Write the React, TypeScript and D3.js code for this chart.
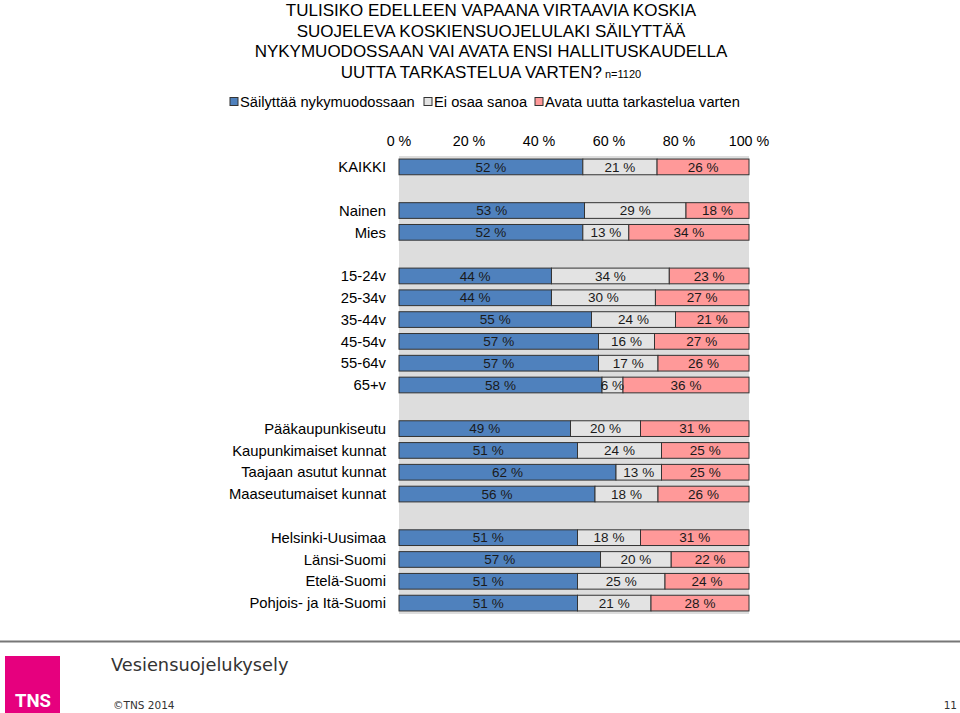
import { scaleBand, scaleLinear } from 'd3'

const categories = [
  'KAIKKI',
  'Nainen',
  'Mies',
  '15-24v',
  '25-34v',
  '35-44v',
  '45-54v',
  '55-64v',
  '65+v',
  'Pääkaupunkiseutu',
  'Kaupunkimaiset kunnat',
  'Taajaan asutut kunnat',
  'Maaseutumaiset kunnat',
  'Helsinki-Uusimaa',
  'Länsi-Suomi',
  'Etelä-Suomi',
  'Pohjois- ja Itä-Suomi',
]

// a blank row follows each of these
const gapAfter = ['KAIKKI', 'Mies', '65+v', 'Maaseutumaiset kunnat']

const keepValues = [52, 53, 52, 44, 44, 55, 57, 57, 58, 49, 51, 62, 56, 51, 57, 51, 51]
const dontKnowValues = [21, 29, 13, 34, 30, 24, 16, 17, 6, 20, 24, 13, 18, 18, 20, 25, 21]
const openValues = [26, 18, 34, 23, 27, 21, 27, 26, 36, 31, 25, 25, 26, 31, 22, 24, 28]

const seriesNames = ['Säilyttää nykymuodossaan', 'Ei osaa sanoa', 'Avata uutta tarkastelua varten']
const seriesColors = ['#4F81BD', '#E3E3E3', '#FF9999']

const xTicks = [0, 20, 40, 60, 80, 100]

const titleLines = [
  'TULISIKO EDELLEEN VAPAANA VIRTAAVIA KOSKIA',
  'SUOJELEVA KOSKIENSUOJELULAKI SÄILYTTÄÄ',
  'NYKYMUODOSSAAN VAI AVATA ENSI HALLITUSKAUDELLA',
  'UUTTA TARKASTELUA VARTEN?',
]

const width = 960
const height = 713
const plot = { left: 399, right: 749, top: 156, bottom: 614 }
const font = '"Liberation Sans", Arial, sans-serif'

function App() {
  const slots: string[] = []
  categories.forEach((c) => {
    slots.push(c)
    if (gapAfter.includes(c)) slots.push(`gap-${c}`)
  })

  const yScale = scaleBand<string>()
    .domain(slots)
    .range([plot.top, plot.bottom])
    .paddingInner(0.28)
    .paddingOuter(0.14)

  const xScale = scaleLinear().domain([0, 100]).range([plot.left, plot.right])

  const rows = categories.map((c, i) => {
    const vals = [keepValues[i], dontKnowValues[i], openValues[i]]
    const total = vals[0] + vals[1] + vals[2]
    let acc = 0
    const segs = vals.map((v, k) => {
      const start = (acc / total) * 100
      acc += v
      const end = (acc / total) * 100
      return { k, v, start, end }
    })
    return { c, segs }
  })

  const legendItems = [
    { x: 230, text: seriesNames[0] },
    { x: 424, text: seriesNames[1] },
    { x: 535, text: seriesNames[2] },
  ]

  return (
    <svg
      width={width}
      height={height}
      viewBox={`0 0 ${width} ${height}`}
      style={{ position: 'absolute', left: 0, top: 0, background: '#fff' }}
    >
      {titleLines.map((line, i) => (
        <text
          key={line}
          x={491}
          y={16 + i * 20.7}
          textAnchor="middle"
          fontFamily={font}
          fontSize={17}
          fill="#000"
        >
          {line}
          {i === titleLines.length - 1 && (
            <tspan fontSize={11}> n=1120</tspan>
          )}
        </text>
      ))}

      {legendItems.map((item, i) => (
        <g key={item.text}>
          <rect
            x={item.x}
            y={97.5}
            width={8}
            height={8}
            fill={seriesColors[i]}
            stroke="#333"
            strokeWidth={1}
          />
          <text x={item.x + 10} y={106.5} fontFamily={font} fontSize={14.7} fill="#000">
            {item.text}
          </text>
        </g>
      ))}

      {xTicks.map((t) => (
        <text
          key={t}
          x={xScale(t)}
          y={146}
          textAnchor="middle"
          fontFamily={font}
          fontSize={14.3}
          fill="#000"
        >
          {`${t} %`}
        </text>
      ))}

      <rect
        x={plot.left}
        y={plot.top}
        width={plot.right - plot.left}
        height={plot.bottom - plot.top}
        fill="#DDDDDD"
      />

      {rows.map((row) => {
        const y = yScale(row.c) ?? 0
        const bh = yScale.bandwidth()
        return (
          <g key={row.c}>
            <text
              x={386}
              y={y + bh / 2}
              dy="0.35em"
              textAnchor="end"
              fontFamily={font}
              fontSize={14.8}
              fill="#000"
            >
              {row.c}
            </text>
            {row.segs.map((s) => (
              <rect
                key={s.k}
                x={xScale(s.start)}
                y={y}
                width={xScale(s.end) - xScale(s.start)}
                height={bh}
                fill={seriesColors[s.k]}
                stroke="#333"
                strokeWidth={1}
              />
            ))}
            {row.segs.map((s) => (
              <text
                key={`${s.k}-label`}
                x={(xScale(s.start) + xScale(s.end)) / 2}
                y={y + bh / 2}
                dy="0.35em"
                textAnchor="middle"
                fontFamily={font}
                fontSize={13.5}
                fill="#1a1a1a"
              >
                {`${s.v} %`}
              </text>
            ))}
          </g>
        )
      })}

      <line x1={0} x2={width} y1={641.5} y2={641.5} stroke="#777" strokeWidth={2} />

      <rect x={5} y={656} width={55} height={57} fill="#E6007E" />
      <text
        x={33}
        y={707}
        textAnchor="middle"
        fontFamily='"Roboto", "Liberation Sans", sans-serif'
        fontWeight="bold"
        fontSize={19}
        fill="#fff"
        textLength={36}
        lengthAdjust="spacingAndGlyphs"
      >
        TNS
      </text>

      <text
        x={111}
        y={671}
        fontFamily='"DejaVu Sans", Verdana, sans-serif'
        fontSize={17.8}
        fill="#333"
      >
        Vesiensuojelukysely
      </text>
      <text
        x={113}
        y={709}
        fontFamily='"DejaVu Sans", Verdana, sans-serif'
        fontSize={10.5}
        fill="#333"
      >
        ©TNS 2014
      </text>
      <text
        x={957}
        y={709}
        textAnchor="end"
        fontFamily='"DejaVu Sans", Verdana, sans-serif'
        fontSize={10.5}
        fill="#333"
      >
        11
      </text>
    </svg>
  )
}

export default App
